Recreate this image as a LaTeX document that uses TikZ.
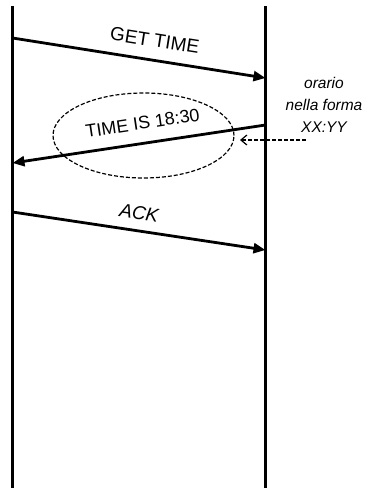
\documentclass[tikz,border=0pt]{standalone}
\usepackage{fontspec}
\setmainfont{Liberation Sans}
\usetikzlibrary{positioning,shapes,arrows.meta}

\begin{document}
\begin{tikzpicture}[x=1pt,y=-1pt,>={Triangle[length=12pt,width=10pt]},
		msg/.style={->,line width=2.8pt},
		lifeline/.style={line width=2.4pt},
		lbl/.style={font=\fontsize{18}{18}\selectfont},
		oval/.style={draw,ellipse,dash pattern=on 4pt off 2pt,line width=1.2pt,minimum width=181pt,minimum height=85pt},
		hint/.style={dash pattern=on 4pt off 2pt,line width=1.2pt,-{Straight Barb[length=6pt,width=10pt]}}]
		\useasboundingbox (0,0) rectangle (367,488);
		% lifelines
		\coordinate (Ctop) at (12.5,6);
		\coordinate (Cbot) at (12.5,488);
		\coordinate (Stop) at (265.5,6);
		\coordinate (Sbot) at (265.5,488);
		\draw[lifeline] (Ctop) -- (Cbot);
		\draw[lifeline] (Stop) -- (Sbot);
		
		% message ends
		\coordinate (C1) at (12.5,38);
		\coordinate (S1) at (265.5,78);
		\coordinate (S2) at (265.5,125);
		\coordinate (C2) at (12.5,163);
		\coordinate (C3) at (12.5,212);
		\coordinate (S3) at (265.5,250);
		
		\node[oval] (O) at (143.5,135.5) {};
		
		\draw[msg] (C1) -- (S1) node[lbl, font=\fontsize{19}{19}\selectfont, pos=0.55, sloped, above=8.5pt] {GET TIME};
		\draw[msg] (S2) -- (C2) node[lbl, pos=0.474, sloped, above=9pt] {TIME IS 18:30};
		\draw[msg] (C3) -- (S3) node[lbl, font=\fontsize{19}{19}\selectfont\itshape, pos=0.49, sloped, above=6pt] {ACK};
		
		\node[font=\fontsize{15.5}{22}\selectfont\itshape, align=center] (N) at (324,105) {orario\\nella forma\\XX:YY};
		\coordinate (Nfoot) at (306,140);
		\draw[hint] (Nfoot) -- (240,140);
	\end{tikzpicture}
\end{document}
